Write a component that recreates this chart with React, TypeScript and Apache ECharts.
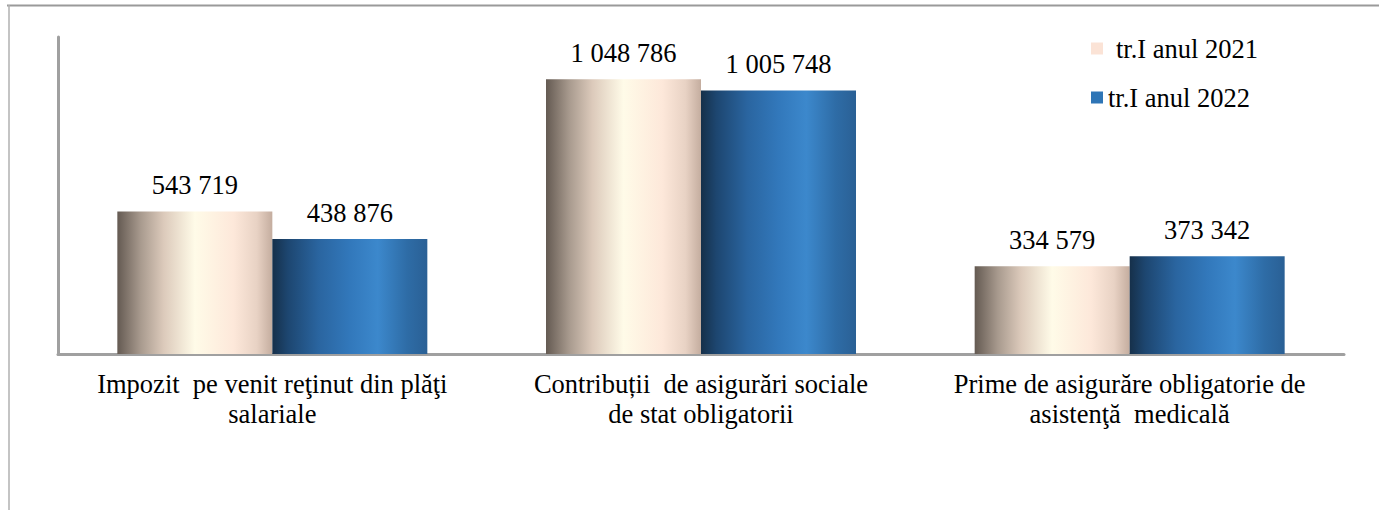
import React, { useEffect, useRef } from "react";
import * as echarts from "echarts";

const categories = [
  "Impozit  pe venit reţinut din plăţi\nsalariale",
  "Contribuții  de asigurări sociale\nde stat obligatorii",
  "Prime de asigurăre obligatorie de\nasistenţă  medicală",
];
const seriesNames = ["tr.I anul 2021", "tr.I anul 2022"];
const values2021 = [543719, 1048786, 334579];
const values2022 = [438876, 1005748, 373342];

const fmt = (v: number) => String(v).replace(/\B(?=(\d{3})+(?!\d))/g, " ");

const FONT = "Times New Roman, serif";
const FS = 26.5;

export default function App() {
  const ref = useRef<HTMLDivElement>(null);
  useEffect(() => {
    const chart = echarts.init(ref.current!, null, { renderer: "svg" });
    const grad1 = new echarts.graphic.LinearGradient(0, 0, 1, 0, [
      { offset: 0, color: "#645a52" },
      { offset: 0.15, color: "#a89a8e" },
      { offset: 0.3, color: "#dccabb" },
      { offset: 0.5, color: "#fffbe8" },
      { offset: 0.75, color: "#fde8da" },
      { offset: 0.9, color: "#e8d2c4" },
      { offset: 1, color: "#c4ad9f" },
    ]);
    const grad2 = new echarts.graphic.LinearGradient(0, 0, 1, 0, [
      { offset: 0, color: "#16304a" },
      { offset: 0.1, color: "#1d4670" },
      { offset: 0.3, color: "#2a65a0" },
      { offset: 0.5, color: "#3278bb" },
      { offset: 0.68, color: "#3c88cc" },
      { offset: 0.87, color: "#2e6ca6" },
      { offset: 1, color: "#2a6095" },
    ]);
    const labelStyle = {
      show: true,
      position: "top",
      distance: 13,
      formatter: (p: any) => fmt(p.value),
      fontFamily: FONT,
      fontSize: FS,
      color: "#000",
    };
    chart.setOption({
      animation: false,
      backgroundColor: "#ffffff",
      textStyle: { fontFamily: FONT },
      grid: { left: 58, right: 35, top: 37, bottom: 156, containLabel: false },
      legend: {
        orient: "vertical",
        left: 1086,
        top: 30,
        itemWidth: 12,
        itemHeight: 12,
        itemGap: 22,
        icon: "rect",
        selectedMode: false,
        data: [
          { name: seriesNames[0], itemStyle: { color: "#fbe3d6" } },
          { name: seriesNames[1], itemStyle: { color: "#2e75b6" } },
        ],
        formatter: (n: string) => (n === seriesNames[0] ? "{pad|}" + n : n),
        textStyle: {
          fontFamily: FONT,
          fontSize: FS,
          color: "#000",
          lineHeight: 26,
          rich: { pad: { width: 8, fontSize: FS, fontFamily: FONT } },
        },
      },
      xAxis: {
        type: "category",
        data: categories,
        axisLine: { lineStyle: { color: "#a0a0a0", width: 3 } },
        axisTick: { show: false },
        axisLabel: {
          fontFamily: FONT,
          fontSize: FS,
          color: "#000",
          lineHeight: 30,
          margin: 15,
          interval: 0,
        },
      },
      yAxis: {
        type: "value",
        min: 0,
        max: 1210000,
        axisLine: { show: true, lineStyle: { color: "#a0a0a0", width: 3 } },
        axisTick: { show: false },
        axisLabel: { show: false },
        splitLine: { show: false },
      },
      series: [
        {
          name: seriesNames[0],
          type: "bar",
          data: values2021,
          barWidth: 155,
          barGap: "0%",
          itemStyle: { color: grad1 },
          label: labelStyle,
        },
        {
          name: seriesNames[1],
          type: "bar",
          data: values2022,
          barWidth: 155,
          itemStyle: { color: grad2 },
          label: labelStyle,
        },
      ],
      graphic: [
        {
          type: "line",
          shape: { x1: 7, y1: 5.5, x2: 1379, y2: 5.5 },
          style: { stroke: "#9a9a9a", lineWidth: 2 },
          silent: true,
        },
        {
          type: "line",
          shape: { x1: 9, y1: 5, x2: 9, y2: 510 },
          style: { stroke: "#b0b0b0", lineWidth: 1.5 },
          silent: true,
        },
      ],
    });
    return () => chart.dispose();
  }, []);
  return (
    <div
      ref={ref}
      style={{ position: "absolute", left: 0, top: 0, width: 1379, height: 510 }}
    />
  );
}
